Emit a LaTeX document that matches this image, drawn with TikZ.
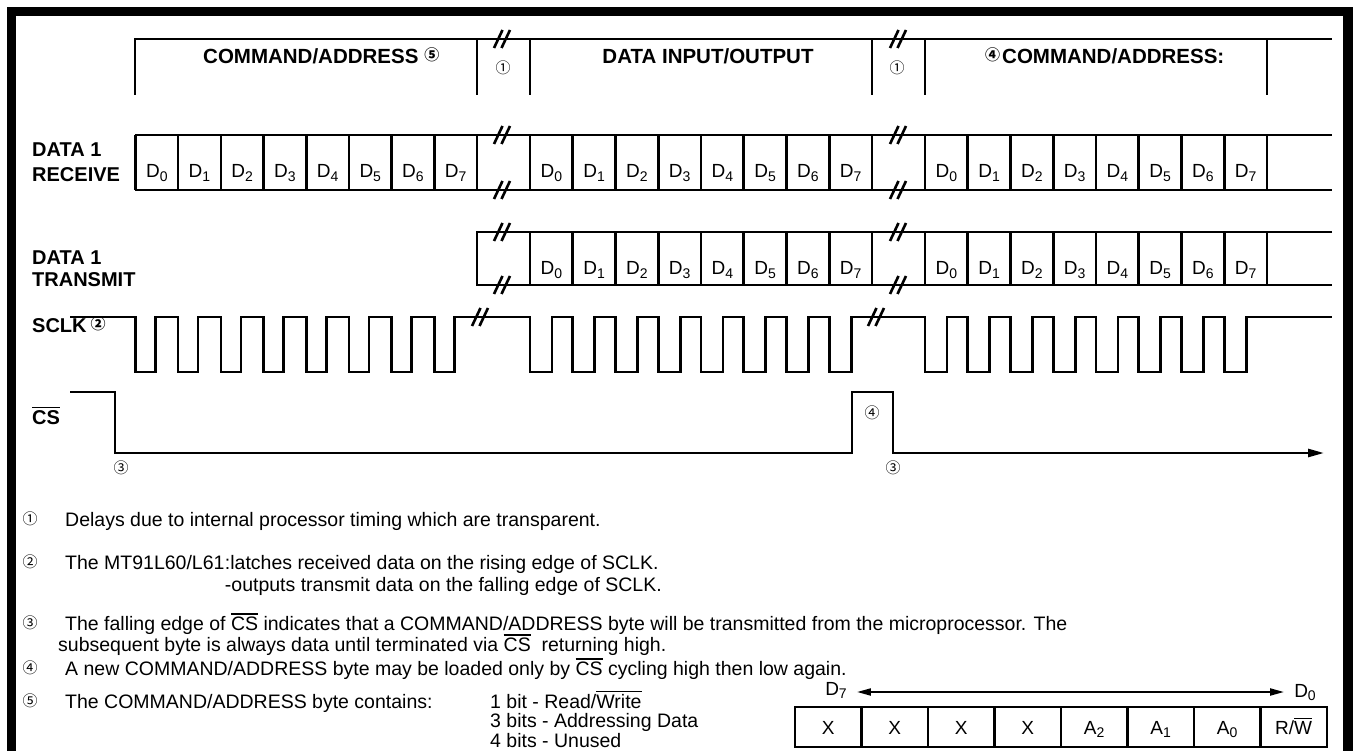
\documentclass[tikz,border=0pt]{standalone}
\usepackage{fontspec}
\setmainfont{Liberation Sans}
\newfontfamily\circfont{Noto Sans CJK SC}
\usetikzlibrary{arrows.meta}
\newcommand\sbs[1]{\raisebox{-0.38ex}{\fontsize{14}{14}\selectfont #1}}
\newcommand\ovl[1]{\leavevmode\vbox{\hrule height 1.5pt\kern 1.6pt\hbox{#1}}}
\newcommand\cnsup[1]{\raisebox{0.3ex}{\circfont\fontsize{15}{15}\selectfont #1}}
\begin{document}
\begin{tikzpicture}[x=1pt,y=-1pt,
  sig/.style={line width=2.6pt},
  brd/.style={line width=9.5pt},
  sl/.style={line width=2.6pt},
  hdr/.style={font=\fontsize{20.5}{22}\selectfont\bfseries, inner sep=0pt},
  lab/.style={font=\fontsize{20}{22}\selectfont\bfseries, inner sep=0pt, anchor=base west},
  dl/.style={font=\fontsize{19}{20}\selectfont, inner sep=0pt, anchor=base},
  note/.style={font=\fontsize{19.5}{21}\selectfont, inner sep=0pt, anchor=base west},
  circ/.style={font=\circfont\fontsize{15}{15}\selectfont, inner sep=0pt},
  brk/.pic={\draw[sl] (-8,9)--(0.5,-9); \draw[sl] (-0.5,9)--(8,-9);}
]
\fill[white] (0,0) rectangle (1355,751);
\useasboundingbox (0,0) rectangle (1355,751);
% border
\draw[brd] (11.5,760) -- (11.5,11.5) -- (1348,11.5) -- (1348,760);

% header brackets
\draw[sig] (135,95) -- (135,39) -- (1332,39);
\foreach \x in {477,530,872,925,1267} \draw[sig] (\x,39) -- (\x,95);
\pic at (502,39) {brk};
\pic at (898,39) {brk};
\node[hdr, anchor=base west] (h1) at (203,64) {COMMAND/ADDRESS\hspace{6pt}\cnsup{⑤}};
\node[hdr, anchor=base] (h2) at (708,64) {DATA INPUT/OUTPUT};
\node[hdr, anchor=base west] (h3) at (985,64) {\cnsup{④}\hspace{2pt}COMMAND/ADDRESS:};
\node[circ] (dl1) at (503,68) {①};
\node[circ] (dl2) at (897,68) {①};

% DATA 1 RECEIVE
\node[lab] (r1) at (32,157) {DATA 1};
\node[lab] (r2) at (32,182) {RECEIVE};
\draw[sig] (135,135) -- (1332,135);
\draw[sig] (135,190) -- (1332,190);
\foreach \i in {0,...,8} {
  \draw[sig] ({135.5+42.69*\i},135) -- ++(0,55);
  \draw[sig] ({530+42.75*\i},135) -- ++(0,55);
  \draw[sig] ({925+42.75*\i},135) -- ++(0,55);
}
\foreach \i in {0,...,7} {
  \node[dl] (ra\i) at ({135.5+42.69*\i+21.3},178) {D\sbs{\i}};
  \node[dl] (rb\i) at ({530+42.75*\i+21.3},178) {D\sbs{\i}};
  \node[dl] (rc\i) at ({925+42.75*\i+21.3},178) {D\sbs{\i}};
}
\pic at (502,135) {brk}; \pic at (502,190) {brk};
\pic at (898,135) {brk}; \pic at (898,190) {brk};

% DATA 1 TRANSMIT
\node[lab] (t1) at (32,265) {DATA 1};
\node[lab] (t2) at (32,287) {TRANSMIT};
\draw[sig] (1332,232) -- (477,232) -- (477,285) -- (1332,285);
\foreach \i in {0,...,8} {
  \draw[sig] ({530+42.75*\i},232) -- ++(0,53);
  \draw[sig] ({925+42.75*\i},232) -- ++(0,53);
}
\foreach \i in {0,...,7} {
  \node[dl] (tb\i) at ({530+42.75*\i+21.3},275) {D\sbs{\i}};
  \node[dl] (tc\i) at ({925+42.75*\i+21.3},275) {D\sbs{\i}};
}
\pic at (502,232) {brk}; \pic at (502,285) {brk};
\pic at (898,232) {brk}; \pic at (898,285) {brk};

% SCLK
\node[lab] (sc) at (32,333) {SCLK\hspace{4pt}\cnsup{②}};
\draw[sig] (70,317)
  \foreach \i in {0,...,7} { -- ({135.5+42.69*\i},317) -- ++(0,55) -- ++(20,0) -- ++(0,-55) }
  -- (530,317)
  \foreach \i in {0,...,7} { -- ({530+42.75*\i},317) -- ++(0,55) -- ++(22,0) -- ++(0,-55) }
  -- (925,317)
  \foreach \i in {0,...,7} { -- ({925+42.75*\i},317) -- ++(0,55) -- ++(22,0) -- ++(0,-55) }
  -- (1332,317);
\pic at (480,317) {brk};
\pic at (876,317) {brk};

% CS
\node[lab] (cs) at (32,424) {\ovl{CS}};
\draw[sig, -{Triangle[length=16pt,width=8pt]}] (70,392) -- (115,392) -- (115,453) -- (852,453) -- (852,392) -- (893,392) -- (893,453) -- (1324,453);
\node[circ] (c3a) at (121,468) {③};
\node[circ] (c4) at (872,413) {④};
\node[circ] (c3b) at (893,468) {③};

% notes
\node[circ] (n1c) at (30,519) {①};
\node[note] (n1) at (65,526) {Delays due to internal processor timing which are transparent.};
\node[circ] (n2c) at (30,562) {②};
\node[note] (n2a) at (65,569) {The MT91L60/L61};
\node[note] (n2b) at (n2a.base east) {:latches received data on the rising edge of SCLK.};
\node[note] (n2c2) at ([yshift=-22pt]n2b.base west) {-outputs transmit data on the falling edge of SCLK.};
\node[circ] (n3c) at (30,623) {③};
\node[note] (n3) at (65,630) {The falling edge of \ovl{CS} indicates that a COMMAND/ADDRESS byte will be transmitted from the microprocessor. The};
\node[note] (n3b) at (58,651) {subsequent byte is always data until terminated via \ovl{CS}\ \ returning high.};
\node[circ] (n4c) at (30,668) {④};
\node[note] (n4) at (65,675) {A new COMMAND/ADDRESS byte may be loaded only by \ovl{CS} cycling high then low again.};
\node[circ] (n5c) at (30,701) {⑤};
\node[note] (n5) at (65,708) {The COMMAND/ADDRESS byte contains:};
\node[note] (b1) at (490,708) {1 bit - Read/\ovl{Write}};
\node[note] (b2) at ([yshift=-19.5pt]b1.base west) {3 bits - Addressing Data};
\node[note] (b3) at ([yshift=-19.5pt]b2.base west) {4 bits - Unused};

% bit table
\node[dl] (d7) at (836,695) {D\sbs{7}};
\node[dl] (d0) at (1305,697) {D\sbs{0}};
\draw[line width=2pt, {Triangle[length=14pt,width=7pt]}-{Triangle[length=14pt,width=7pt]}] ([xshift=10pt]d7.east |- 0,692) -- ([xshift=-10pt]d0.west |- 0,692);
\draw[sig] (795,707) rectangle (1327,747);
\foreach \i in {1,...,7} \draw[sig] ({795+66.5*\i},707) -- ++(0,40);
\foreach \t [count=\i from 0] in {X,X,X,X,A\sbs{2},A\sbs{1},A\sbs{0},R/\ovl{W}}
  \node[dl] (bt\i) at ({795+66.5*\i+33.2},734) {\t};
\end{tikzpicture}
\end{document}
